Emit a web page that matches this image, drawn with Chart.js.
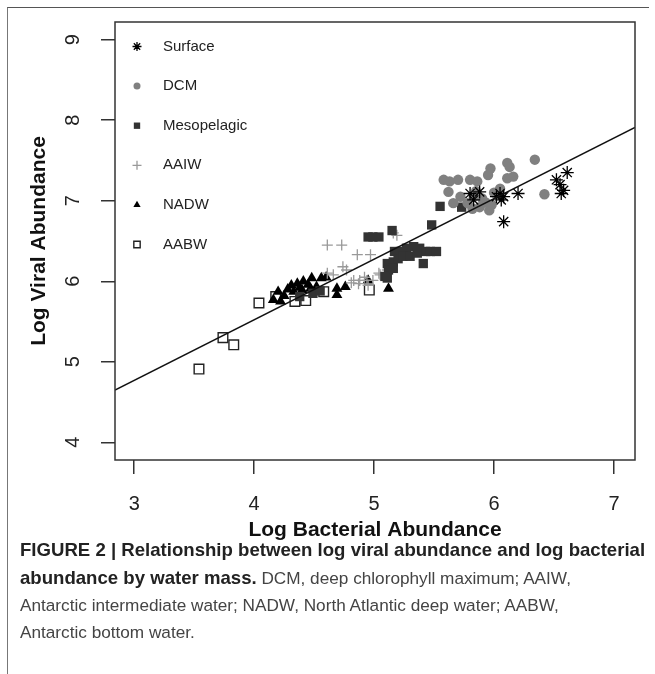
<!DOCTYPE html>
<html>
<head>
<meta charset="utf-8">
<script src="https://cdn.jsdelivr.net/npm/chart.js@4/dist/chart.umd.min.js"></script>
<style>
  html, body { margin: 0; padding: 0; background: #fff; }
  #wrap { position: relative; width: 655px; height: 674px; overflow: hidden; }
  #frame { position: absolute; left: 7px; top: 7px; width: 641px; height: 680px;
           border-top: 1.5px solid #555; border-left: 1.5px solid #777; }
  canvas { position: absolute; left: 0; top: 0; }
  #caption { position: absolute; left: 20px; top: 536px; font-family: "Liberation Sans", Arial, sans-serif;
             font-size: 17.2px; line-height: 27px; color: #444; white-space: nowrap; }
  #caption b { color: #222; font-size: 18.6px; }
</style>
</head>
<body>
<div id="wrap">
  <div id="frame"></div>
  <canvas id="chart" width="655" height="674"></canvas>
  <div id="caption">
    <b>FIGURE 2 | Relationship between log viral abundance and log bacterial</b><br>
    <b>abundance by water mass.</b> DCM, deep chlorophyll maximum; AAIW,<br>
    Antarctic intermediate water; NADW, North Atlantic deep water; AABW,<br>
    Antarctic bottom water.
  </div>
</div>
<script>
// values (log10 bacterial, log10 viral)
const surfaceX = [6.61, 6.52, 6.55, 6.58, 6.56, 6.20, 6.08, 6.06, 6.05, 6.08, 5.88, 5.80, 5.83, 6.02];
const surfaceY = [7.35, 7.26, 7.20, 7.13, 7.09, 7.09, 7.05, 7.01, 7.09, 6.74, 7.11, 7.09, 7.01, 7.05];

const dcmX = [6.34, 6.11, 6.13, 5.97, 5.95, 6.16, 6.11, 5.58, 5.63, 5.70, 5.80, 5.86, 5.62, 5.72,
              5.66, 5.83, 5.90, 5.93, 5.88, 5.96, 5.82, 6.42, 6.00, 6.05, 5.78, 5.98, 5.85];
const dcmY = [7.51, 7.47, 7.42, 7.40, 7.32, 7.30, 7.28, 7.26, 7.24, 7.26, 7.26, 7.24, 7.11, 7.05,
              6.97, 7.05, 7.03, 6.98, 6.92, 6.88, 6.90, 7.08, 7.10, 7.15, 6.97, 6.95, 7.12];

const mesoX = [5.55, 5.73, 5.48, 4.95, 4.99, 5.04, 5.15, 5.17, 5.22, 5.27, 5.33, 5.38, 5.43, 5.47, 5.52,
               5.11, 5.16, 5.20, 5.24, 5.30, 5.36, 5.41, 5.12, 5.09, 5.11, 5.16, 4.38, 4.49, 4.55];
const mesoY = [6.93, 6.92, 6.70, 6.55, 6.55, 6.55, 6.63, 6.37, 6.37, 6.41, 6.43, 6.41, 6.37, 6.37, 6.37,
               6.22, 6.24, 6.28, 6.31, 6.31, 6.35, 6.22, 6.14, 6.06, 6.04, 6.16, 5.81, 5.85, 5.88];

const aaiwX = [4.61, 4.73, 4.86, 4.97, 4.74, 4.83, 4.88, 4.94, 4.99, 5.05, 5.11, 4.61, 4.66, 5.16,
               4.81, 4.87, 5.04, 4.77, 4.92, 5.19, 4.95];
const aaiwY = [6.45, 6.45, 6.33, 6.33, 6.18, 6.01, 6.01, 6.01, 6.01, 6.08, 6.14, 6.10, 6.08, 6.60,
               5.98, 5.97, 6.10, 6.14, 6.05, 6.57, 5.95];

const nadwX = [4.20, 4.16, 4.22, 4.25, 4.31, 4.28, 4.36, 4.41, 4.48, 4.56, 4.33, 4.40, 4.47, 4.52,
               4.45, 4.38, 4.69, 4.76, 4.69, 4.95, 5.12, 4.60];
const nadwY = [5.87, 5.77, 5.75, 5.82, 5.95, 5.90, 5.97, 6.00, 6.04, 6.04, 5.87, 5.89, 5.91, 5.93,
               5.96, 5.92, 5.91, 5.93, 5.83, 6.01, 5.91, 6.05];

const aabwX = [3.54, 3.74, 3.83, 4.04, 4.18, 4.34, 4.43, 4.58, 4.96];
const aabwY = [4.91, 5.30, 5.21, 5.73, 5.81, 5.75, 5.76, 5.87, 5.89];

// fitted regression line
const fitSlope = 0.752;
const fitIntercept = 2.514;

const xTicks = [3, 4, 5, 6, 7];
const yTicks = [4, 5, 6, 7, 8, 9];
const xRange = [2.84, 7.175];
const yRange = [3.78, 9.22];

function pts(xs, ys) {
  return xs.map((x, i) => ({ x: x, y: ys[i] }));
}

const fitLine = xRange.map(x => ({ x: x, y: fitIntercept + fitSlope * x }));

const framePlugin = {
  id: 'frame',
  afterDraw(chart) {
    const a = chart.chartArea, ctx = chart.ctx;
    ctx.save();
    ctx.strokeStyle = '#333';
    ctx.lineWidth = 1.5;
    ctx.strokeRect(a.left, a.top, a.right - a.left, a.bottom - a.top);
    ctx.restore();
  }
};

// legend drawn inside the plot, R style
const insideLegend = {
  id: 'insideLegend',
  afterDraw(chart) {
    const ctx = chart.ctx;
    const sizes = [4.5, 3.5, 4.5, 4.5, 4.2, 4.5];
    let row = 0;
    chart.data.datasets.forEach((ds) => {
      if (ds.type === 'line') return;
      const y = 46.5 + row * 39.6;
      ctx.save();
      ctx.fillStyle = ds.backgroundColor;
      ctx.strokeStyle = ds.borderColor;
      ctx.lineWidth = ds.borderWidth;
      Chart.helpers.drawPoint(ctx, { pointStyle: ds.pointStyle, radius: sizes[row], borderWidth: ds.borderWidth, rotation: 0 }, 137, y);
      ctx.fillStyle = '#222';
      ctx.font = '15px "Liberation Sans", Arial, sans-serif';
      ctx.textBaseline = 'middle';
      ctx.fillText(ds.label, 163, y);
      ctx.restore();
      row++;
    });
  }
};

Chart.defaults.font.family = '"Liberation Sans", Arial, sans-serif';
Chart.defaults.color = '#222';

new Chart(document.getElementById('chart'), {
  type: 'scatter',
  data: {
    datasets: [
      { type: 'line', label: 'fit', data: fitLine, borderColor: '#111', borderWidth: 1.5,
        pointRadius: 0, fill: false },
      { label: 'Surface', data: pts(surfaceX, surfaceY), pointStyle: 'star', pointRadius: 6.5,
        borderColor: '#000', backgroundColor: '#000', borderWidth: 1.3 },
      { label: 'DCM', data: pts(dcmX, dcmY), pointStyle: 'circle', pointRadius: 5.2,
        borderColor: '#808080', backgroundColor: '#808080', borderWidth: 0 },
      { label: 'Mesopelagic', data: pts(mesoX, mesoY), pointStyle: 'rect', pointRadius: 6.6,
        borderColor: '#333', backgroundColor: '#333', borderWidth: 0 },
      { label: 'AAIW', data: pts(aaiwX, aaiwY), pointStyle: 'cross', pointRadius: 5.5,
        borderColor: '#999', backgroundColor: '#999', borderWidth: 1.3 },
      { label: 'NADW', data: pts(nadwX, nadwY), pointStyle: 'triangle', pointRadius: 6.3,
        borderColor: '#000', backgroundColor: '#000', borderWidth: 0 },
      { label: 'AABW', data: pts(aabwX, aabwY), pointStyle: 'rect', pointRadius: 6.8,
        borderColor: '#222', backgroundColor: '#fff', borderWidth: 1.4 }
    ]
  },
  options: {
    responsive: false,
    animation: false,
    events: [],
    layout: { padding: { left: 0, top: 22, right: 20, bottom: 131 } },
    plugins: { legend: { display: false }, tooltip: { enabled: false } },
    scales: {
      x: {
        type: 'linear', min: xRange[0], max: xRange[1],
        afterBuildTicks: s => { s.ticks = xTicks.map(v => ({ value: v })); },
        afterFit: s => { s.height = 83; s.paddingLeft = 0; s.paddingRight = 0; },
        grid: { drawOnChartArea: false, drawTicks: true, tickLength: 14, color: '#333', lineWidth: 1.5 },
        border: { display: false },
        ticks: { font: { size: 20 }, padding: 18, color: '#222', maxRotation: 0 },
        title: { display: true, text: 'Log Bacterial Abundance', font: { size: 21, weight: 'bold' },
                 color: '#111', padding: { top: 0, bottom: 0 } }
      },
      y: {
        type: 'linear', min: yRange[0], max: yRange[1],
        afterBuildTicks: s => { s.ticks = yTicks.map(v => ({ value: v })); },
        afterFit: s => { s.width = 115; s.paddingTop = 0; s.paddingBottom = 0; },
        grid: { drawOnChartArea: false, drawTicks: true, tickLength: 14, color: '#333', lineWidth: 1.5 },
        border: { display: false },
        ticks: { font: { size: 20 }, padding: 22, color: '#222', minRotation: 90, maxRotation: 90,
                 crossAlign: 'center' },
        title: { display: true, text: 'Log Viral Abundance', font: { size: 21, weight: 'bold' },
                 color: '#111', padding: { top: 27, bottom: 0 } }
      }
    }
  },
  plugins: [framePlugin, insideLegend]
});
</script>
</body>
</html>
